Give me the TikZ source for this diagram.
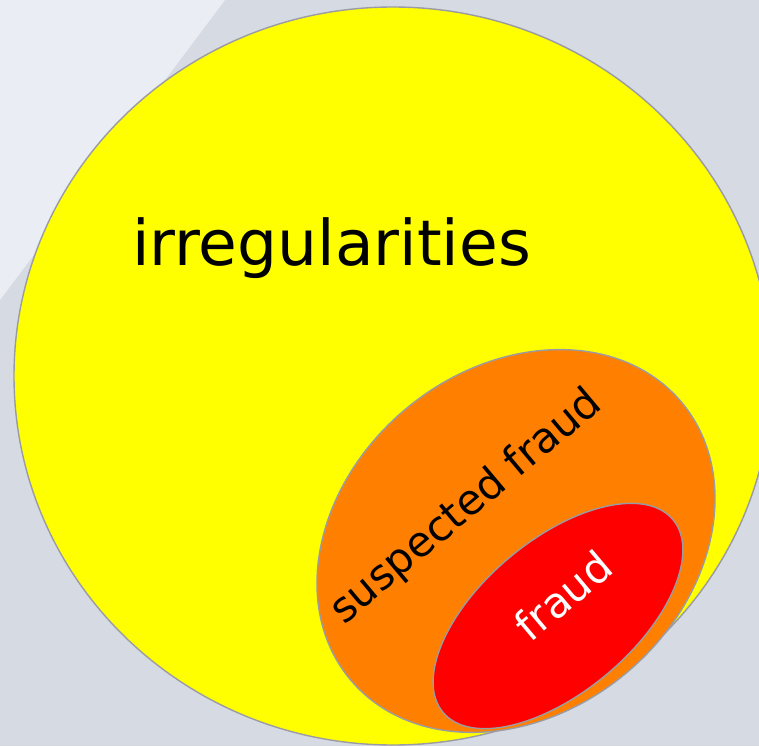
\documentclass[tikz,border=0pt]{standalone}
\usepackage{fontspec}
\setmainfont{DejaVu Sans}
\usepackage{xcolor}
\definecolor{bgdark}{HTML}{D6DAE3}
\definecolor{bglight}{HTML}{EAEDF4}
\definecolor{rimgray}{HTML}{9A9BA3}
\definecolor{irrfill}{HTML}{FFFF00}
\definecolor{suspfill}{HTML}{FF8000}
\definecolor{fraudfill}{HTML}{FF0000}

\begin{document}
\begin{tikzpicture}[line cap=round,line join=round,x=0.5pt,y=0.5pt,
  rim/.style={draw=rimgray,line width=0.7pt},
  label/.style={anchor=base,inner sep=0pt}]
\useasboundingbox (0,0) rectangle (759,746);
\clip (0,0) rectangle (759,746);
% backdrop
\fill [bgdark] (0,0) rectangle (759,746);
\fill [bglight] (0,746) -- (225,746) -- (0,446) -- cycle;
% the three sets
\draw [rim,fill=irrfill] (393,370) ellipse [x radius=379, y radius=369];
\draw [rim,fill=suspfill,rotate around={40:(516,205)}] (516,205) ellipse [x radius=216, y radius=172];
\draw [rim,fill=fraudfill,rotate around={40:(558,130)}] (558,130) ellipse [x radius=150, y radius=76];
% labels
\node [label,font=\fontsize{31.5}{36}\selectfont] (irreg) at (331.5,481) {irregularities};
\node [label,rotate=40,font=\fontsize{21}{25}\selectfont] (suspect) at (474,230) {suspected fraud};
\node [label,rotate=40,text=white,font=\fontsize{21}{25}\selectfont] (fraudtxt) at (573,138.5) {fraud};
\end{tikzpicture}
\end{document}
